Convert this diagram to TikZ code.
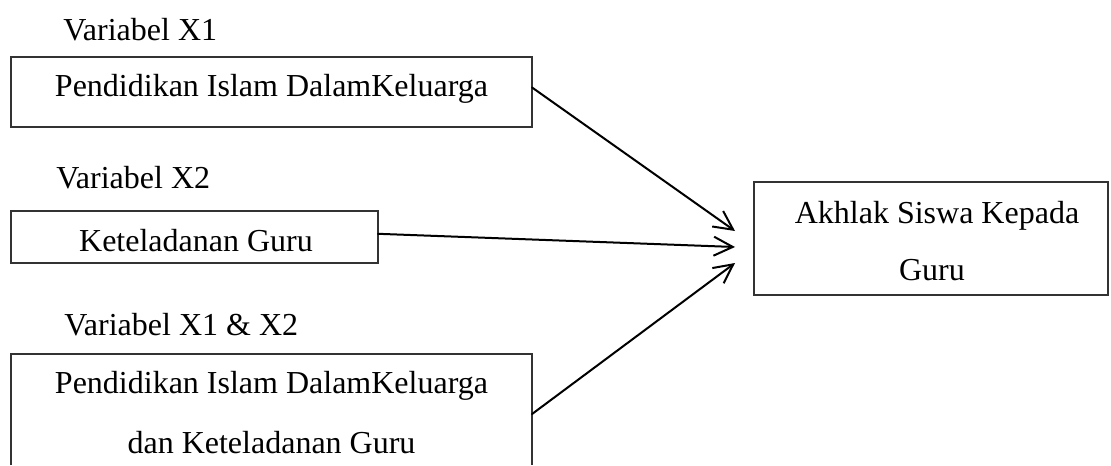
\documentclass[tikz,border=0pt]{standalone}
\usepackage{fontspec}
\setmainfont{Liberation Serif}
\usetikzlibrary{arrows.meta}
\begin{document}
\begin{tikzpicture}[x=0.5pt,y=-0.5pt,
  frame/.style={draw=black!80,line width=0.6pt},
  boxnode/.style={frame,rectangle,inner sep=0pt,outer sep=0pt},
  holder/.style={rectangle,inner sep=0pt,outer sep=0pt},
  txt/.style={inner sep=0pt,anchor=base,font=\fontsize{16pt}{19pt}\selectfont},
  vlabel/.style={txt,anchor=base west},
  arr/.style={draw=black,line width=1pt,line cap=round,line join=round,
    -{Straight Barb[length=9.5pt,width=9.5pt,line width=1pt]}}]
\useasboundingbox (0,0) rectangle (1111,465);
% boxes
\node[boxnode,minimum width=260.5pt,minimum height=35pt] (b1) at (271.5,92) {};
\node[boxnode,minimum width=183.5pt,minimum height=26pt] (b2) at (194.5,237) {};
\node[holder,minimum width=260.5pt,minimum height=55.5pt] (b3) at (271.5,409.5) {};
\draw[frame] (b3.south west) -- (b3.north west) -- (b3.north east) -- (b3.south east);
\node[boxnode,minimum width=177pt,minimum height=56.5pt] (b4) at (931,238.5) {};
% labels
\node[vlabel] (v1) at (63,41) {Variabel X1};
\node[vlabel] (v2) at (56,188) {Variabel X2};
\node[vlabel] (v3) at (64,335) {Variabel X1 \& X2};
\node[txt] (t1) at (271.5,97) {Pendidikan Islam DalamKeluarga};
\node[txt] (t2) at (196,251) {Keteladanan Guru};
\node[txt] (t3a) at (271.5,393) {Pendidikan Islam DalamKeluarga};
\node[txt] (t3b) at (271.5,453) {dan Keteladanan Guru};
\node[txt] (t4a) at (937,223) {Akhlak Siswa Kepada};
\node[txt] (t4b) at (932,280) {Guru};
% arrow tips
\coordinate (e1) at (735,231);
\coordinate (e2) at (735,247);
\coordinate (e3) at (735,263);
\draw[arr] (b1.1.5) -- (e1);
\draw[arr] (b2.1.56) -- (e2);
\draw[arr] (b3.-1.65) -- (e3);
\end{tikzpicture}
\end{document}
